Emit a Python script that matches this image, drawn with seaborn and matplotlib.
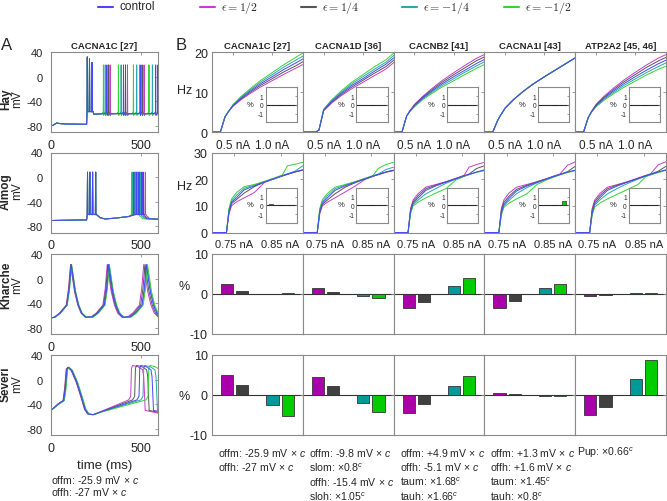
import numpy as np
import pandas as pd
import matplotlib
matplotlib.use("Agg")
import matplotlib.pyplot as plt
from matplotlib.lines import Line2D
import seaborn as sns

# ---------------- data ----------------
eps_names = ["control", "1/2", "1/4", "-1/4", "-1/2"]
eps_tex = ["control", r"$\epsilon=1/2$", r"$\epsilon=1/4$", r"$\epsilon=-1/4$", r"$\epsilon=-1/2$"]
line_colors = ["#4646ff", "#c83cc8", "#555555", "#28a8a8", "#38d038"]
bar_eps = ["1/2", "1/4", "-1/4", "-1/2"]
bar_colors = ["#aa00aa", "#404040", "#009a9a", "#00cc00"]
bar_pos = [1, 2, 4, 5]

genes = ["CACNA1C [27]", "CACNA1D [36]", "CACNB2 [41]", "CACNA1I [43]", "ATP2A2 [45, 46]"]
models = ["Hay", "Almog", "Kharche", "Severi"]

# panel A, Hay (membrane potential, mV vs ms)
hay_pre_t = [0, 12, 30, 55, 90, 197]
hay_pre_v = [-80, -79, -75.5, -76.5, -77, -77.5]
hay_burst_t = [201, 213, 227]
hay_burst_v = [32, 29, 23]
hay_tonic = {
    "control": [309, 401, 493, 579],
    "1/2": [327, 423, 515],
    "1/4": [318, 412, 504, 592],
    "-1/4": [300, 388, 474, 561],
    "-1/2": [290, 373, 456, 542],
}
hay_peak = 19

# panel A, Almog
almog_pre_t = [0, 197]
almog_pre_v = [-70.5, -69.5]
almog_burst_t = [202, 215, 230, 247]
almog_mid_t = [256, 272, 300, 360, 430]
almog_mid_v = [-62, -66, -68, -66.5, -64]
almog_late = {
    "control": [458, 472, 487, 503],
    "1/2": [470, 487, 505, 522],
    "1/4": [464, 480, 496, 512],
    "-1/4": [452, 465, 479, 493],
    "-1/2": [446, 458, 470, 483],
}
almog_peak = 8

# panel A, Kharche (one beat, times relative to peak)
kh_dt = [-90, -61, -24, -11, 0, 9, 22, 40, 58, 82, 110]
kh_v = [-62.5, -56, -43, -16, 23, 5, -21, -43, -56, -63, -62]
kh_peaks = {
    "control": [112, 319, 527],
    "1/2": [108, 311, 513],
    "1/4": [110, 315, 520],
    "-1/4": [113, 321, 530],
    "-1/2": [114, 323, 534],
}

# panel A, Severi
sv_t = [0, 42, 70, 79, 88, 97, 115, 143, 170, 189, 207, 235, 271]
sv_v = [-50, -39.5, -34, -15, 17, 20, 15, -4, -29, -48, -56, -57, -53]
sv_shift = {"control": 0, "1/2": -4, "1/4": -2, "-1/4": 2, "-1/2": 4}
sv_up = {"control": 487, "1/2": 441, "1/4": 463, "-1/4": 509, "-1/2": 537}
sv_ap2_dt = [-12, 0, 4, 10, 40, 66, 72, 80, 200]
sv_ap2_v = [-33, -27, 18, 23, 21, 16, 5, -50, -57.5]

# panel B row 1: Hay f-I curves (Hz), order control, 1/2, 1/4, -1/4, -1/2
hay_I = [0.23, 0.34, 0.40, 0.44, 0.50, 0.60, 0.72, 0.85, 1.00, 1.15, 1.30, 1.40]
hay_rate = {
    "CACNA1C [27]": [
        [0, 0, 3.8, 5.0, 6.6, 8.4, 10.2, 12.0, 13.8, 15.6, 17.2, 18.3],
        [0, 0, 3.8, 5.0, 6.4, 8.0, 9.6, 11.2, 12.8, 14.4, 15.9, 16.9],
        [0, 0, 3.8, 5.0, 6.5, 8.2, 9.9, 11.6, 13.3, 15.0, 16.5, 17.6],
        [0, 0, 3.8, 5.0, 6.7, 8.6, 10.5, 12.4, 14.3, 16.2, 17.9, 19.0],
        [0, 0, 3.8, 5.0, 6.8, 8.8, 10.8, 12.8, 14.8, 16.8, 18.6, 19.8]],
    "CACNA1D [36]": [
        [0, 0, 0, 0.5, 5.5, 7.6, 9.6, 11.5, 13.3, 15.2, 17.0, 18.6],
        [0, 0, 0, 0.5, 5.3, 7.2, 9.0, 10.7, 12.4, 14.1, 15.8, 17.4],
        [0, 0, 0, 0.5, 5.4, 7.4, 9.3, 11.1, 12.9, 14.7, 16.4, 18.0],
        [0, 0, 0, 0.5, 5.6, 7.8, 9.9, 11.9, 13.8, 15.7, 17.5, 19.2],
        [0, 0, 0, 0.5, 5.7, 8.0, 10.2, 12.3, 14.3, 16.3, 18.1, 19.8]],
    "CACNB2 [41]": [
        [0, 0, 4.0, 5.2, 6.6, 8.4, 10.2, 12.0, 13.8, 15.5, 17.2, 18.2],
        [0, 0, 4.0, 5.3, 6.9, 8.8, 10.8, 12.8, 14.8, 16.7, 18.5, 19.4],
        [0, 0, 4.0, 5.25, 6.75, 8.6, 10.5, 12.4, 14.3, 16.1, 17.9, 18.8],
        [0, 0, 4.0, 5.15, 6.45, 8.2, 9.9, 11.6, 13.3, 15.0, 16.6, 17.6],
        [0, 0, 4.0, 5.1, 6.3, 8.0, 9.6, 11.2, 12.8, 14.4, 16.0, 16.9]],
    "CACNA1I [43]": [
        [0, 0, 2.8, 4.2, 6.0, 8.0, 10.0, 11.9, 13.8, 15.6, 17.4, 18.6],
        [0, 0, 2.8, 4.2, 6.0, 8.0, 10.0, 11.9, 13.8, 15.6, 17.4, 18.6],
        [0, 0, 2.8, 4.2, 6.0, 8.0, 10.0, 11.9, 13.8, 15.6, 17.4, 18.6],
        [0, 0, 2.8, 4.2, 6.0, 8.0, 10.0, 11.9, 13.8, 15.6, 17.4, 18.6],
        [0, 0, 2.8, 4.2, 6.0, 8.0, 10.0, 11.9, 13.8, 15.6, 17.4, 18.6]],
    "ATP2A2 [45, 46]": [
        [0, 0, 3.6, 5.0, 6.6, 8.4, 10.2, 12.0, 13.8, 15.5, 17.1, 18.0],
        [0, 0, 3.6, 5.1, 6.9, 8.9, 10.9, 12.9, 14.9, 16.8, 18.5, 19.4],
        [0, 0, 3.6, 5.05, 6.75, 8.65, 10.55, 12.45, 14.35, 16.2, 17.8, 18.7],
        [0, 0, 3.6, 4.95, 6.45, 8.15, 9.85, 11.55, 13.25, 14.9, 16.4, 17.3],
        [0, 0, 3.6, 4.9, 6.3, 7.9, 9.5, 11.1, 12.7, 14.3, 15.7, 16.5]],
}

# panel B row 2: Almog f-I curves (Hz)
almog_I = [0.7024, 0.7332, 0.7386, 0.7441, 0.7551, 0.7716, 0.7935, 0.8155,
           0.8374, 0.8539, 0.8648, 0.8813, 0.8978]
almog_rate = {
    "CACNA1C [27]": [
        [0, 0, 8, 11.3, 13.1, 16.0, 17.5, 19.0, 20.3, 21.3, 21.9, 22.8, 23.5],
        [0, 0, 7, 10.0, 11.5, 13.0, 15.0, 18.8, 20.2, 21.2, 21.8, 22.7, 23.4],
        [0, 0, 7.5, 10.8, 12.4, 14.8, 17.2, 18.9, 20.2, 21.2, 21.8, 22.7, 23.4],
        [0, 0, 8.5, 11.8, 14.0, 16.6, 17.8, 19.0, 20.3, 21.3, 22.0, 23.0, 25.0],
        [0, 0, 9, 12.5, 15.0, 17.2, 18.0, 19.2, 20.5, 21.6, 25.0, 25.6, 26.3]],
    "CACNA1D [36]": [
        [0, 0, 8, 11.0, 13.0, 15.8, 17.5, 18.9, 20.2, 21.2, 21.8, 22.7, 23.4],
        [0, 0, 7, 10.0, 11.4, 13.0, 15.2, 17.5, 20.0, 21.1, 21.7, 22.6, 23.2],
        [0, 0, 7.5, 10.5, 12.2, 14.5, 17.0, 18.7, 20.1, 21.1, 21.7, 22.6, 23.3],
        [0, 0, 8.5, 11.5, 13.8, 16.4, 17.8, 19.0, 20.3, 21.3, 21.9, 23.6, 24.5],
        [0, 0, 9, 12.2, 14.6, 17.0, 18.0, 19.1, 20.4, 21.4, 24.0, 25.5, 26.3]],
    "CACNB2 [41]": [
        [0, 0, 8, 11.0, 13.0, 15.8, 17.5, 18.9, 20.2, 21.2, 21.8, 22.7, 23.5],
        [0, 0, 9, 12.2, 14.6, 17.0, 18.0, 19.1, 20.4, 21.4, 24.5, 25.5, 26.3],
        [0, 0, 8.5, 11.5, 13.8, 16.4, 17.8, 19.0, 20.3, 21.3, 21.9, 24.0, 25.0],
        [0, 0, 7.5, 10.5, 12.2, 14.5, 16.5, 18.5, 20.1, 21.1, 21.7, 22.6, 23.3],
        [0, 0, 7, 10.0, 11.4, 13.0, 14.8, 16.5, 19.8, 21.0, 21.7, 22.6, 23.2]],
    "CACNA1I [43]": [
        [0, 0, 7.5, 10.5, 12.8, 15.6, 17.4, 18.8, 20.1, 21.1, 21.7, 22.6, 23.4],
        [0, 0, 9, 12.2, 14.8, 17.0, 18.0, 19.1, 20.3, 21.3, 21.9, 25.2, 26.5],
        [0, 0, 8.2, 11.3, 13.6, 16.2, 17.7, 18.9, 20.2, 21.2, 21.8, 22.8, 24.8],
        [0, 0, 7, 10.0, 12.0, 14.6, 16.8, 18.6, 20.0, 21.0, 21.7, 22.6, 23.3],
        [0, 0, 6.5, 9.5, 11.0, 12.6, 14.5, 18.0, 19.8, 20.9, 21.6, 22.5, 23.2]],
    "ATP2A2 [45, 46]": [
        [0, 0, 7.5, 10.8, 13.0, 15.8, 17.5, 18.9, 20.2, 21.2, 21.8, 22.7, 23.5],
        [0, 0, 9, 12.2, 14.6, 17.0, 18.0, 19.1, 20.4, 21.4, 22.0, 25.4, 26.5],
        [0, 0, 8.3, 11.5, 13.8, 16.4, 17.8, 19.0, 20.3, 21.3, 21.9, 23.0, 24.8],
        [0, 0, 7, 10.2, 12.2, 14.5, 16.6, 18.4, 20.0, 21.1, 21.7, 22.6, 23.4],
        [0, 0, 6.5, 9.5, 11.0, 12.6, 14.4, 16.2, 18.0, 20.9, 21.6, 22.5, 23.3]],
}

# insets: % change of f-I curve, order 1/2, 1/4, -1/4, -1/2
hay_inset_pct = [[0, 0, 0, 0], [0, 0, 0, 0], [0, 0, 0, 0], [0, 0, 0, 0], [0, 0, 0, 0]]
almog_inset_pct = [[0.12, 0.03, 0, 0], [0, 0, 0.02, 0.06], [0.06, 0.04, 0, 0],
                   [0.05, 0.03, 0, 0.5], [0, 0, 0, 0]]

# rows 3-4: % change of firing/beating, order 1/2, 1/4, -1/4, -1/2
kharche_pct = [[2.6, 0.8, 0.1, 0.3], [1.4, 0.6, -0.6, -1.1], [-3.6, -1.9, 2.0, 4.1],
               [-3.6, -1.8, 1.4, 2.4], [-0.6, -0.25, 0.15, 0.3]]
severi_pct = [[5.0, 2.5, -2.6, -5.2], [4.4, 2.2, -2.1, -4.2], [-4.5, -2.3, 2.3, 4.7],
              [0.4, 0.15, -0.15, -0.15], [-5.0, -3.0, 3.9, 8.8]]

X = r"$\,\times\,c$"
notes_A = ["offm: -25.9 mV" + X, "offh: -27 mV" + X]
notes_B = [
    ["offm: -25.9 mV" + X, "offh: -27 mV" + X],
    ["offm: -9.8 mV" + X, r"slom: $\times$0.8$^c$", "offh: -15.4 mV" + X,
     r"sloh: $\times$1.05$^c$"],
    ["offm: +4.9 mV" + X, "offh: -5.1 mV" + X, r"taum: $\times$1.68$^c$",
     r"tauh: $\times$1.66$^c$"],
    ["offm: +1.3 mV" + X, "offh: +1.6 mV" + X, r"taum: $\times$1.45$^c$",
     r"tauh: $\times$0.8$^c$"],
    [r"Pup: $\times$0.66$^c$"],
]

# ---------------- helpers ----------------
draw_order = ["1/2", "1/4", "-1/4", "-1/2", "control"]
line_pal = dict(zip(eps_names, line_colors))
bar_pal = dict(zip(bar_eps, bar_colors))
GRID = "#8a8a8a"


def hay_trace(name):
    t, v = list(hay_pre_t), list(hay_pre_v)
    for ts, pk in zip(hay_burst_t, hay_burst_v):
        t += [ts - 1.5, ts, ts + 1.5, ts + 6]
        v += [-57, pk, -56, -57]
    t.append(236)
    v.append(-61)
    for ts in hay_tonic[name]:
        t += [ts - 8, ts - 1, ts, ts + 1.5, ts + 5]
        v += [-60, -57, hay_peak, -63, -60.5]
    t.append(600)
    v.append(-60)
    return t, v


def almog_trace(name):
    t, v = list(almog_pre_t), list(almog_pre_v)
    for ts in almog_burst_t:
        t += [ts - 1.5, ts, ts + 1.5]
        v += [-61, almog_peak, -60]
    t += almog_mid_t
    v += almog_mid_v
    late = almog_late[name]
    for ts in late:
        t += [ts - 1.5, ts, ts + 1.5]
        v += [-61, almog_peak, -60]
    t += [late[-1] + 8, late[-1] + 25, 600]
    v += [-63, -67.5, -68.5]
    return t, v


def kharche_trace(name):
    t, v = [0], [-64]
    for tp in kh_peaks[name]:
        t += [tp + d for d in kh_dt]
        v += kh_v
    return t, v


def severi_trace(name):
    s = sv_shift[name]
    t = [x + s if x > 0 else x for x in sv_t]
    v = list(sv_v)
    tu = sv_up[name]
    t += [tu + d for d in sv_ap2_dt]
    v += sv_ap2_v
    return t, v


def style_axes(ax, labelsize=8):
    for sp in ax.spines.values():
        sp.set_visible(True)
        sp.set_color(GRID)
        sp.set_linewidth(0.8)
    ax.tick_params(direction="in", length=2.5, width=0.6, color=GRID,
                   top=True, right=True, labelsize=labelsize)
    ax.set_xlabel("")
    ax.set_ylabel("")


def draw_bars(ax, pct, inset=False):
    df = pd.DataFrame({"pos": bar_pos, "pct": pct, "eps": bar_eps})
    sns.barplot(data=df, x="pos", y="pct", hue="eps", hue_order=bar_eps,
                palette=bar_pal, native_scale=True, dodge=False, width=0.8,
                saturation=1, edgecolor="#333333", linewidth=0.5 if inset else 0.6,
                legend=False, ax=ax)
    ax.axhline(0, color="#333333" if not inset else "#222222", lw=0.8, zorder=0.5)
    ax.set_xlim(0, 6)


def draw_lines(ax, x_list, y_lists):
    frames = [pd.DataFrame({"x": x_list, "y": ys, "eps": n}) for n, ys in zip(eps_names, y_lists)]
    df = pd.concat(frames, ignore_index=True)
    sns.lineplot(data=df, x="x", y="y", hue="eps", hue_order=draw_order,
                 palette=line_pal, estimator=None, sort=False, lw=0.7,
                 legend=False, ax=ax)


# ---------------- figure ----------------
sns.set_style("white")
plt.rcParams["font.family"] = ["Liberation Sans", "DejaVu Sans"]
plt.rcParams["mathtext.fontset"] = "custom"
plt.rcParams["mathtext.rm"] = "Liberation Sans"
plt.rcParams["mathtext.it"] = "Liberation Sans:italic"
plt.rcParams["axes.unicode_minus"] = False

W, H = 667, 502
fig = plt.figure(figsize=(W / 100, H / 100), dpi=100)


def px_axes(x0, y0, w, h):
    return fig.add_axes([x0 / W, 1 - (y0 + h) / H, w / W, h / H])


row_top = [53, 153.5, 255, 356]
row_h = 80

# panel A
trace_funcs = [hay_trace, almog_trace, kharche_trace, severi_trace]
ylab_y = [0.42, 0.525, 0.625, 0.65]
for r, func in enumerate(trace_funcs):
    ax = px_axes(51, row_top[r], 107, row_h)
    frames = []
    for n in eps_names:
        t, v = func(n)
        frames.append(pd.DataFrame({"t": t, "v": v, "eps": n}))
    df = pd.concat(frames, ignore_index=True)
    sns.lineplot(data=df, x="t", y="v", hue="eps", hue_order=draw_order,
                 palette=line_pal, estimator=None, sort=False, lw=0.7,
                 legend=False, ax=ax)
    ax.set_xlim(0, 592)
    ax.set_ylim(-90, 40)
    ax.set_xticks([0, 500])
    ax.set_yticks([-80, -40, 0, 40])
    style_axes(ax)
    ax.tick_params(axis="x", labelsize=9, pad=5)
    ax.tick_params(axis="y", labelsize=8, pad=6)
    ax.text(-0.42, ylab_y[r], models[r], rotation=90, fontsize=8.5, fontweight="bold",
            ha="center", va="center", transform=ax.transAxes)
    ax.text(-0.32, ylab_y[r], "mV", rotation=90, fontsize=8.5,
            ha="center", va="center", transform=ax.transAxes)
    if r == 0:
        ax.set_title("CACNA1C [27]", fontsize=6.8, fontweight="bold", pad=3)

fig.text(105 / W, 1 - 466 / H, "time (ms)", fontsize=9.5, ha="center", va="center")
for i, s in enumerate(notes_A):
    fig.text(51 / W, 1 - (480 + 12 * i) / H, s, fontsize=7.6, ha="left", va="center")

# panel B
col_w = 90.8
hz_y = [0.53, 0.58]
pct_y = [0.6, 0.49]
for c, gene in enumerate(genes):
    x0 = 212 + c * col_w
    # row 1: Hay f-I
    ax = px_axes(x0, row_top[0], col_w, row_h)
    draw_lines(ax, hay_I, hay_rate[gene])
    ax.set_xlim(0.233, 1.395)
    ax.set_ylim(0, 20)
    ax.set_xticks([0.5, 1.0], ["0.5 nA", "1.0 nA"])
    ax.set_yticks([0, 10, 20])
    style_axes(ax)
    ax.tick_params(axis="x", labelsize=8.5, pad=5)
    ax.tick_params(axis="y", labelsize=9, pad=3)
    ax.set_title(gene, fontsize=6.8, fontweight="bold", pad=3)
    axes_rows = [ax]

    # row 2: Almog f-I
    ax = px_axes(x0, row_top[1], col_w, row_h)
    draw_lines(ax, almog_I, almog_rate[gene])
    ax.set_xlim(0.702, 0.898)
    ax.set_ylim(0, 30)
    ax.set_xticks([0.75, 0.85], ["0.75 nA", "0.85 nA"])
    ax.set_yticks([0, 10, 20, 30])
    style_axes(ax)
    ax.tick_params(axis="x", labelsize=8, pad=5)
    ax.tick_params(axis="y", labelsize=9, pad=3)
    axes_rows.append(ax)

    # insets
    for k, (ax_r, pct) in enumerate(zip(axes_rows, [hay_inset_pct[c], almog_inset_pct[c]])):
        ins = ax_r.inset_axes([0.59, 0.12, 0.345, 0.44])
        draw_bars(ins, pct, inset=True)
        ins.set_ylim(-2, 2)
        ins.set_xticks([])
        ins.set_yticks([-1, 0, 1])
        style_axes(ins, labelsize=4.8)
        ins.tick_params(top=False, right=True, length=1.5, pad=1.5)
        ins.text(-0.5, 0.52, "%", fontsize=5.5, ha="center", va="center",
                 transform=ins.transAxes)
        if c == 0:
            ax_r.text(-0.30, hz_y[k], "Hz", fontsize=9, ha="center", va="center",
                      transform=ax_r.transAxes)
        else:
            ax_r.set_yticklabels([])

    # rows 3-4: Kharche / Severi % change
    for k, pct in enumerate([kharche_pct[c], severi_pct[c]]):
        ax = px_axes(x0, row_top[2 + k], col_w, row_h)
        draw_bars(ax, pct)
        ax.set_ylim(-10, 10)
        ax.set_yticks([-10, 0, 10])
        ax.set_xticks([])
        style_axes(ax)
        ax.tick_params(axis="y", labelsize=9, pad=3)
        if c == 0:
            ax.text(-0.31, pct_y[k], "%", fontsize=9, ha="center", va="center",
                    transform=ax.transAxes)
        else:
            ax.set_yticklabels([])

    # notes under each column
    note_x = [218, 309, 400, 490, 577][c]
    for i, s in enumerate(notes_B[c]):
        fig.text(note_x / W, 1 - (453 + 14.5 * i) / H, s, fontsize=7.6,
                 ha="left", va="center")

# panel letters
fig.text(7 / W, 1 - 45 / H, "A", fontsize=12, ha="center", va="center")
fig.text(181 / W, 1 - 45 / H, "B", fontsize=12, ha="center", va="center")

# legend row
leg_x = [98, 200, 301, 402, 504]
for x, col, lab in zip(leg_x, line_colors, eps_tex):
    fig.add_artist(Line2D([x / W, (x + 15) / W], [1 - 7.5 / H, 1 - 7.5 / H],
                          transform=fig.transFigure, color=col, lw=1.5))
    t = fig.text((x + 21) / W, 1 - 7.5 / H, lab, fontsize=8.5, ha="left", va="center")
    if lab != "control":
        t.set_math_fontfamily("cm")

fig.savefig("out.png", dpi=100)
